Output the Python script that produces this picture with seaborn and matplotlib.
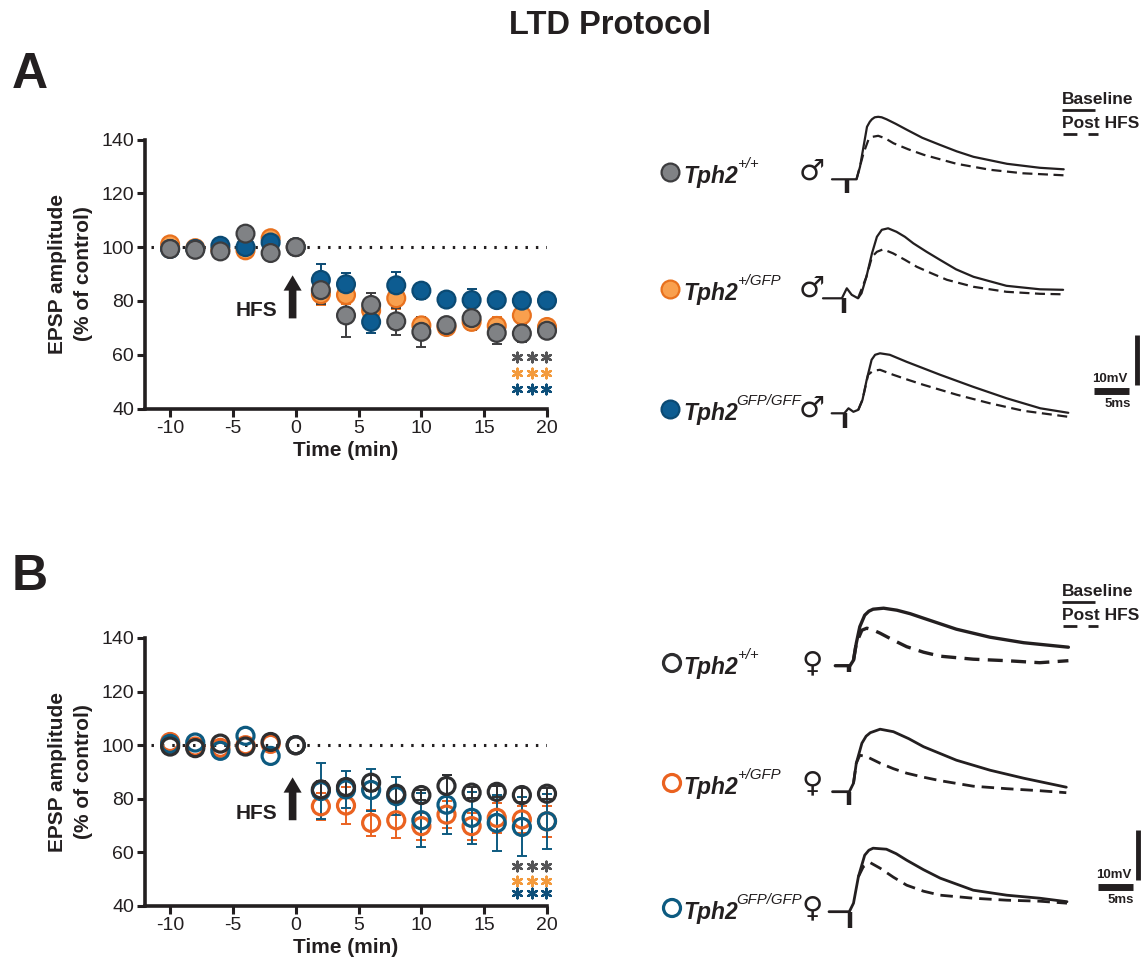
import numpy as np
import pandas as pd
import matplotlib
matplotlib.use("Agg")
import matplotlib.pyplot as plt
import seaborn as sns

# ==========================================================
#  DATA - EPSP amplitude (% of control)
# ==========================================================
time_min = [-10, -8, -6, -4, -2, 0, 2, 4, 6, 8, 10, 12, 14, 16, 18, 20]
genotypes = ["+/+", "+/GFP", "GFP/GFP"]

# panel A - males
male_wt = [99.3, 99.0, 98.4, 105.0, 97.8, 100.0, 84.0, 74.6, 78.5, 72.4, 68.5, 71.0, 73.6, 68.1, 67.9, 68.9]
male_het = [101.0, 99.6, 99.0, 98.8, 103.3, 100.0, 82.5, 82.2, 76.4, 81.0, 70.9, 70.3, 72.2, 70.7, 74.6, 70.3]
male_ko = [99.3, 99.3, 100.5, 100.0, 101.7, 100.0, 87.8, 86.2, 72.2, 85.8, 83.8, 80.5, 80.3, 80.3, 80.1, 80.1]
male_wt_sem = [0, 0, 0, 0, 0, 0, 5.0, 8.0, 4.4, 5.0, 5.7, 2.5, 4.5, 4.0, 3.0, 2.0]
male_het_sem = [0, 0, 0, 0, 0, 0, 4.0, 3.5, 3.5, 4.0, 2.5, 2.5, 3.0, 3.3, 2.5, 2.0]
male_ko_sem = [0, 0, 0, 0, 0, 0, 6.0, 4.0, 4.0, 5.0, 3.0, 1.5, 4.0, 1.5, 1.5, 1.5]

# panel B - females
female_wt = [99.5, 98.9, 100.6, 99.5, 101.2, 100.0, 83.5, 84.4, 86.0, 81.9, 81.4, 84.8, 82.3, 82.6, 81.4, 81.9]
female_het = [101.2, 99.5, 99.0, 100.0, 100.5, 100.0, 77.2, 77.5, 71.0, 72.0, 69.8, 74.1, 69.8, 72.9, 72.3, 71.6]
female_ko = [100.5, 101.0, 97.9, 103.5, 96.0, 100.0, 82.9, 83.5, 83.3, 81.0, 72.0, 77.8, 72.9, 71.0, 69.5, 71.6]
female_wt_sem = [0, 0, 0, 0, 0, 0, 3.0, 3.0, 3.0, 3.0, 2.0, 4.0, 2.0, 2.0, 2.5, 2.0]
female_het_sem = [0, 0, 0, 0, 0, 0, 5.0, 7.0, 4.8, 6.5, 5.0, 5.0, 5.0, 5.6, 5.0, 5.7]
female_ko_sem = [0, 0, 0, 0, 0, 0, 10.3, 7.0, 7.7, 7.0, 10.0, 11.0, 9.7, 10.6, 11.0, 10.2]

# significance marks (***), one row per genotype
star_time = [17.6, 18.8, 19.9]
male_star_y = [59.2, 53.3, 47.4]
female_star_y = [55.0, 49.5, 44.8]

# example traces (ms, mV) - baseline (solid) and post HFS (dashed)
m_wt_base_t = [-2.1, 0.0, 1.4, 1.9, 2.4, 2.9, 3.3, 3.6, 4.0, 4.5, 5.0, 5.7, 7.0, 8.6, 10.8, 13.3, 15.7, 18.1, 22.9, 27.6, 31.0]
m_wt_base_mv = [0, 0, 0, 2.5, 6.5, 10.5, 11.5, 12.0, 12.4, 12.5, 12.4, 12.0, 11.1, 9.9, 8.3, 6.9, 5.6, 4.5, 3.1, 2.3, 2.0]
m_wt_post_t = [1.4, 2.4, 3.1, 3.7, 4.5, 5.5, 6.7, 8.8, 11.0, 15.7, 20.5, 25.2, 31.0]
m_wt_post_mv = [0, 5.2, 7.9, 8.5, 8.7, 8.2, 7.2, 6.0, 4.9, 3.1, 1.9, 1.2, 0.8]

m_het_base_t = [-3.0, -0.3, 0.4, 1.1, 2.0, 2.5, 3.2, 4.0, 4.7, 5.4, 6.3, 7.5, 8.7, 9.9, 11.8, 13.7, 16.0, 18.5, 23.2, 28.0, 31.3]
m_het_base_mv = [0, 0, 2.0, 0.7, 0, 1.0, 4.3, 9.0, 12.3, 13.7, 14.0, 13.3, 12.3, 11.0, 9.3, 7.7, 5.8, 4.3, 2.5, 1.8, 1.7]
m_het_post_t = [2.0, 3.2, 4.0, 4.7, 5.6, 7.0, 8.7, 10.4, 12.5, 14.7, 18.5, 23.2, 28.0, 31.3]
m_het_post_mv = [0, 4.3, 8.3, 9.3, 9.8, 9.0, 7.7, 6.3, 5.0, 3.7, 2.3, 1.3, 0.9, 0.8]

m_ko_base_t = [-1.9, -0.1, 0.5, 1.2, 1.9, 2.5, 3.1, 3.8, 4.3, 5.0, 6.4, 8.8, 11.2, 13.6, 18.3, 23.1, 27.9, 31.9]
m_ko_base_mv = [0, 0, 1.0, 0.3, 0.7, 2.7, 6.7, 10.7, 11.7, 12.0, 11.7, 10.3, 9.0, 7.7, 5.3, 3.0, 1.0, 0.1]
m_ko_post_t = [1.9, 2.5, 3.3, 4.0, 5.0, 6.9, 9.0, 11.2, 16.0, 20.7, 25.5, 31.9]
m_ko_post_mv = [0.7, 2.7, 7.7, 8.5, 8.7, 7.7, 6.7, 5.7, 3.7, 2.0, 0.5, -0.7]

f_wt_base_t = [-2.0, 0.1, 0.6, 1.0, 1.5, 2.2, 2.8, 3.4, 4.9, 6.8, 8.7, 10.6, 15.3, 20.1, 24.9, 31.3]
f_wt_base_mv = [0, 0, 1.1, 4.5, 7.8, 10.1, 10.9, 11.3, 11.5, 11.1, 10.4, 9.5, 7.3, 5.7, 4.6, 3.7]
f_wt_post_t = [0.6, 1.0, 1.8, 2.5, 3.3, 4.4, 6.3, 8.2, 10.6, 13.0, 17.7, 22.5, 27.2, 31.3]
f_wt_post_mv = [1.1, 4.5, 7.1, 7.5, 7.2, 6.5, 5.1, 3.8, 2.7, 1.9, 1.3, 1.0, 0.6, 1.0]

f_het_base_t = [-2.4, 0.0, 0.6, 1.0, 1.8, 2.4, 3.0, 4.4, 6.3, 8.5, 10.6, 15.3, 20.1, 24.9, 31.0]
f_het_base_mv = [0, 0, 1.7, 5.7, 9.7, 11.1, 11.8, 12.5, 12.0, 10.6, 9.0, 6.3, 4.3, 2.7, 0.9]
f_het_post_t = [0.6, 1.0, 1.5, 2.5, 4.4, 6.3, 8.2, 10.6, 13.0, 17.7, 22.5, 27.2, 31.0]
f_het_post_mv = [1.7, 5.7, 7.3, 7.0, 5.7, 4.6, 3.7, 2.9, 2.2, 1.1, 0.6, 0.2, -0.2]

f_ko_base_t = [-3.0, -0.1, 0.5, 1.2, 2.1, 2.7, 3.3, 5.2, 6.6, 8.1, 10.5, 12.9, 17.6, 22.4, 27.1, 31.0]
f_ko_base_mv = [0, 0, 1.7, 7.0, 11.3, 12.3, 12.7, 12.5, 11.6, 10.3, 8.4, 6.7, 4.3, 3.3, 2.7, 2.0]
f_ko_post_t = [1.2, 1.9, 2.9, 4.3, 6.2, 8.1, 10.5, 12.9, 17.6, 22.4, 27.1, 31.0]
f_ko_post_mv = [7.0, 9.0, 9.8, 8.7, 6.9, 5.3, 4.1, 3.3, 2.7, 2.3, 2.1, 1.7]

# stimulus artifact depth (mV) per trace row
male_artifact = [-2.7, -3.0, -3.0]
female_artifact = [-1.2, -2.7, -3.3]

# ==========================================================
#  STYLE
# ==========================================================
sns.set_style("ticks")
plt.rcParams['font.family'] = ['Liberation Sans', 'DejaVu Sans']
plt.rcParams['axes.unicode_minus'] = False
plt.rcParams['text.color'] = '#231f20'
plt.rcParams['axes.labelcolor'] = '#231f20'
plt.rcParams['xtick.color'] = '#231f20'
plt.rcParams['ytick.color'] = '#231f20'

fill_pal = {"+/+": "#808285", "+/GFP": "#f9a04e", "GFP/GFP": "#0d5c91"}
edge_pal = {"+/+": "#3d3d3f", "+/GFP": "#e8711e", "GFP/GFP": "#0b4a73"}
open_pal = {"+/+": "#2e2e30", "+/GFP": "#ea6220", "GFP/GFP": "#0d5a80"}
star_pal = {"+/+": "#555557", "+/GFP": "#f39a3c", "GFP/GFP": "#0d4f7a"}
draw_order = ["+/GFP", "GFP/GFP", "+/+"]

FIG_W, FIG_H = 1144, 968
fig = plt.figure(figsize=(FIG_W / 100, FIG_H / 100), dpi=100)


def long_df(values, sems):
    parts = []
    for g in draw_order:
        i = genotypes.index(g)
        parts.append(pd.DataFrame({"time": time_min, "epsp": values[i],
                                   "err": sems[i], "genotype": g}))
    return pd.concat(parts, ignore_index=True)


df_male = long_df([male_wt, male_het, male_ko], [male_wt_sem, male_het_sem, male_ko_sem])
df_female = long_df([female_wt, female_het, female_ko], [female_wt_sem, female_het_sem, female_ko_sem])


def plot_timecourse(ax, df, filled):
    err_pal = edge_pal if filled else open_pal
    for g in draw_order:
        sub = df[(df["genotype"] == g) & (df["err"] > 0)]
        ax.errorbar(sub["time"], sub["epsp"], yerr=sub["err"], fmt='none', ecolor=err_pal[g],
                    elinewidth=1.4, capsize=3.5, capthick=1.4, zorder=2, clip_on=False)
    ax.hlines(100, -11.5, 20, colors='#231f20', linestyles=(0, (0.8, 2.6)), linewidth=2.2,
              zorder=1)
    sns.scatterplot(data=df, x="time", y="epsp", hue="genotype", palette=fill_pal,
                    s=165 if filled else 150, linewidth=1.6 if filled else 2.3,
                    legend=False, ax=ax, zorder=3, clip_on=False)
    coll = ax.collections[-1]
    if filled:
        coll.set_edgecolors([edge_pal[g] for g in df["genotype"]])
    else:
        coll.set_edgecolors([open_pal[g] for g in df["genotype"]])
        coll.set_facecolors('none')

    ax.set_xlim(-12, 20)
    ax.set_ylim(40, 140)
    ax.set_xticks([-10, -5, 0, 5, 10, 15, 20])
    ax.set_yticks([40, 60, 80, 100, 120, 140])
    sns.despine(ax=ax)
    for s in ["left", "bottom"]:
        ax.spines[s].set_linewidth(2.6)
        ax.spines[s].set_color('#231f20')
    ax.tick_params(axis='both', width=2.2, length=6, labelsize=14, pad=2, color='#231f20')
    ax.set_xlabel("Time (min)", fontsize=15, fontweight='bold', labelpad=3)
    ax.set_ylabel("EPSP amplitude\n(% of control)", fontsize=15, fontweight='bold',
                  labelpad=6, linespacing=1.45)


def hfs_and_stars(ax, arrow_from, arrow_to, text_y, star_rows):
    ax.annotate("", xy=(-0.25, arrow_to), xytext=(-0.25, arrow_from),
                arrowprops=dict(width=5.5, headwidth=13, headlength=11,
                                facecolor='#231f20', edgecolor='none'))
    ax.text(-3.1, text_y, "HFS", fontsize=15, fontweight='bold', ha='center', va='center')
    for g, y in zip(genotypes, star_rows):
        ax.scatter(star_time, [y] * len(star_time), marker=(6, 2, 0), s=48,
                   color=star_pal[g], linewidth=1.7, clip_on=False, zorder=4)


ax_a = fig.add_axes([145 / FIG_W, 1 - 408.5 / FIG_H, 402 / FIG_W, 269 / FIG_H])
plot_timecourse(ax_a, df_male, filled=True)
hfs_and_stars(ax_a, 73.5, 89.5, 76.5, male_star_y)

ax_b = fig.add_axes([145 / FIG_W, 1 - 906 / FIG_H, 402 / FIG_W, 268 / FIG_H])
plot_timecourse(ax_b, df_female, filled=False)
hfs_and_stars(ax_b, 72.0, 88.0, 74.5, female_star_y)

# ==========================================================
#  TRACES
# ==========================================================
PX_PER_MS = 7.0
PX_PER_MV = 5.0


def trace_axes(stim_x, base_y, left=815, right=1080, below=30, above=80):
    ax = fig.add_axes([left / FIG_W, 1 - (base_y + below) / FIG_H,
                       (right - left) / FIG_W, (below + above) / FIG_H])
    ax.set_xlim((left - stim_x) / PX_PER_MS, (right - stim_x) / PX_PER_MS)
    ax.set_ylim(-below / PX_PER_MV, above / PX_PER_MV)
    ax.axis('off')
    return ax


def draw_trace(ax, bt, bv, pt, pv, artifact, lw):
    sns.lineplot(x=bt, y=bv, sort=False, estimator=None, color='#231f20', linewidth=lw, ax=ax)
    sns.lineplot(x=pt, y=pv, sort=False, estimator=None, color='#231f20', linewidth=lw,
                 linestyle=(0, (4.5, 2.5)), ax=ax)
    ax.vlines(0, artifact, 0, colors='#231f20', linewidth=3.2)
    for ln in ax.lines:
        ln.set_clip_on(False)
        ln.set_solid_joinstyle('round')


male_traces = [(m_wt_base_t, m_wt_base_mv, m_wt_post_t, m_wt_post_mv),
               (m_het_base_t, m_het_base_mv, m_het_post_t, m_het_post_mv),
               (m_ko_base_t, m_ko_base_mv, m_ko_post_t, m_ko_post_mv)]
female_traces = [(f_wt_base_t, f_wt_base_mv, f_wt_post_t, f_wt_post_mv),
                 (f_het_base_t, f_het_base_mv, f_het_post_t, f_het_post_mv),
                 (f_ko_base_t, f_ko_base_mv, f_ko_post_t, f_ko_post_mv)]

male_anchor = [(846.7, 179.3), (844.0, 298.3), (845.0, 413.3)]
female_anchor = [(849.3, 665.7), (849.3, 791.7), (850.0, 911.7)]

trace_axes_m = []
for (sx, by), tr, art in zip(male_anchor, male_traces, male_artifact):
    ax = trace_axes(sx, by)
    draw_trace(ax, *tr, art, lw=1.6)
    trace_axes_m.append(ax)
trace_axes_f = []
for (sx, by), tr, art, lw in zip(female_anchor, female_traces, female_artifact, [2.4, 2.0, 2.0]):
    ax = trace_axes(sx, by)
    draw_trace(ax, *tr, art, lw=lw)
    trace_axes_f.append(ax)


def scale_bar(ax, x_ms, y_mv, bar_x, bar_y0):
    # 5 ms horizontal and 10 mV vertical bars
    ax.hlines(y_mv, x_ms, x_ms + 5, colors='#231f20', linewidth=5, clip_on=False)
    ax.vlines(bar_x, bar_y0, bar_y0 + 10, colors='#231f20', linewidth=3.5, clip_on=False)
    ax.text(x_ms + 2.3, y_mv + 1.2, "10mV", fontsize=9.5, fontweight='bold',
            ha='center', va='bottom', clip_on=False)
    ax.text(x_ms + 3.3, y_mv - 1.3, "5ms", fontsize=9.5, fontweight='bold',
            ha='center', va='top', clip_on=False)


scale_bar(trace_axes_m[2], 35.6, 4.4, 41.7, 5.6)
scale_bar(trace_axes_f[2], 35.4, 4.9, 41.1, 6.3)

# ==========================================================
#  LABELS / LEGENDS (overlay in figure pixels)
# ==========================================================
ov = fig.add_axes([0, 0, 1, 1], zorder=-1)
ov.set_xlim(0, FIG_W)
ov.set_ylim(FIG_H, 0)
ov.axis('off')

ov.text(610, 25, "LTD Protocol", fontsize=23.5, fontweight='bold', ha='center', va='center')
ov.text(12, 88, "A", fontsize=36, fontweight='bold', ha='left', va='baseline')
ov.text(12, 590, "B", fontsize=36, fontweight='bold', ha='left', va='baseline')

sups_m = ["+/+", "+/GFP", "GFP/GFF"]
sups_f = ["+/+", "+/GFP", "GFP/GFP"]
rows_m = [172, 289, 409]
rows_f = [663, 783, 908]


def legend_rows(rows, sups, filled, sex, mx):
    for g, y, sup in zip(genotypes, rows, sups):
        if filled:
            ov.scatter([mx], [y], s=165, color=fill_pal[g], edgecolor=edge_pal[g], linewidth=1.6)
        else:
            ov.scatter([mx], [y], s=150, facecolor='none', edgecolor=open_pal[g], linewidth=2.3)
        t = ov.text(683, y + 11, "Tph2", fontsize=16.5, fontweight='bold', style='italic',
                    ha='left', va='baseline')
        ov.annotate(sup, xy=(0.98, 0.72), xycoords=t, fontsize=10.8, style='italic',
                    ha='left', va='bottom')
        ov.text(812, y, sex, fontsize=21, ha='center', va='center', family='DejaVu Sans',
                color='#231f20')


legend_rows(rows_m, sups_m, True, "\u2642", 670)
legend_rows(rows_f, sups_f, False, "\u2640", 672)

for top in (100, 592):
    ov.text(1062, top, "Baseline", fontsize=12.5, fontweight='bold', ha='left', va='center')
    ov.text(1062, top + 23, "Post HFS", fontsize=12.5, fontweight='bold', ha='left', va='center')
    ov.hlines(top + 10, 1062, 1095, colors='#231f20', linewidth=2)
    ov.hlines(top + 34, 1063, 1098, colors='#231f20', linewidth=2, linestyles=(0, (5, 4)))

fig.savefig("out.png", dpi=100)
